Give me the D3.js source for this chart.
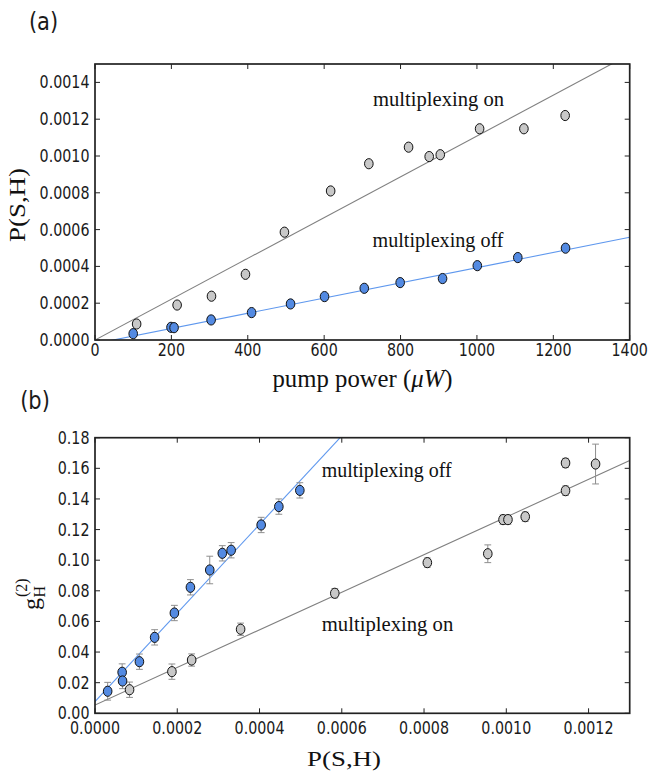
<!DOCTYPE html>
<html>
<head>
<meta charset="utf-8">
<script src="https://cdn.jsdelivr.net/npm/d3@7"></script>
<style>
html,body{margin:0;padding:0;background:#fff;}
svg{display:block;}
</style>
</head>
<body>
<svg id="chart" width="649" height="774"></svg>
<script>
// ---------- DATA ----------
// Panel (a): pump power (µW) vs P(S,H)
const aOnPower  = [109, 215, 305, 394, 496, 617, 717, 821, 875, 904, 1007, 1123, 1231];
const aOnP      = [0.000087, 0.00019, 0.000238, 0.000357, 0.000586, 0.00081, 0.000958, 0.001048, 0.000997, 0.001007, 0.001148, 0.001148, 0.00122];
const aOffPower = [100, 199, 207, 304, 410, 512, 601, 705, 799, 910, 1001, 1107, 1232];
const aOffP     = [0.0000343, 0.000069, 0.000067, 0.000109, 0.000149, 0.000196, 0.000236, 0.000281, 0.000312, 0.000334, 0.000404, 0.000448, 0.000499];
const aFitSlopes     = [1.109e-6, 4.13e-7];   // [on, off]
const aFitIntercepts = [0, -1.98e-5];
const aXTicks = [0, 200, 400, 600, 800, 1000, 1200, 1400];
const aYTicks = [0, 0.0002, 0.0004, 0.0006, 0.0008, 0.0010, 0.0012, 0.0014];

// Panel (b): P(S,H) vs g_H^(2)
const bOffP   = [3.08e-5, 6.6e-5, 6.7e-5, 1.08e-4, 1.45e-4, 1.93e-4, 2.32e-4, 2.79e-4, 3.095e-4, 3.31e-4, 4.04e-4, 4.47e-4, 4.98e-4];
const bOffG   = [0.0144, 0.0268, 0.0211, 0.0337, 0.0496, 0.0655, 0.0823, 0.0936, 0.1045, 0.1065, 0.123, 0.135, 0.1456];
const bOffErr = [0.0058, 0.0055, 0.005, 0.005, 0.005, 0.005, 0.005, 0.009, 0.005, 0.005, 0.005, 0.005, 0.005];
const bOnP    = [8.4e-5, 1.87e-4, 2.35e-4, 3.54e-4, 5.83e-4, 8.08e-4, 9.55e-4, 9.92e-4, 1.004e-3, 1.046e-3, 1.144e-3, 1.144e-3, 1.217e-3];
const bOnG    = [0.0154, 0.0272, 0.0348, 0.0549, 0.0784, 0.0984, 0.1042, 0.1265, 0.1265, 0.1284, 0.1635, 0.1454, 0.1628];
const bOnErr  = [0.005, 0.005, 0.004, 0.004, 0.003, 0.003, 0.0058, 0.003, 0.003, 0.003, 0.003, 0.003, 0.013];
const bFitSlopes     = [122.8, 289.3];  // [on, off]
const bFitIntercepts = [0.0054, 0.0076];
const bXTicks = [0, 0.0002, 0.0004, 0.0006, 0.0008, 0.0010, 0.0012];
const bYTicks = [0, 0.02, 0.04, 0.06, 0.08, 0.10, 0.12, 0.14, 0.16, 0.18];

// ---------- STYLE ----------
const GRAY_FILL = "#c8c8c8", BLUE_FILL = "#538ae2";
const GRAY_LINE = "#808080", BLUE_LINE = "#5f98ee";
const ERR_COL = "#8e8e8e";
const SANS = "'DejaVu Sans', sans-serif";
const SERIF = "'Liberation Serif', 'DejaVu Serif', serif";
const SQ = 0.84; // horizontal squeeze of sans text

const svg = d3.select("#chart");

function sansText(g, x, y, str, anchor, size) {
  return g.append("text")
    .attr("transform", `translate(${x},${y}) scale(${SQ},1)`)
    .attr("text-anchor", anchor)
    .style("font-family", SANS).style("font-size", size + "px")
    .attr("fill", "#1a1a1a")
    .text(str);
}

function panel(cfg) {
  const {L, R, T, B, xDom, yDom, xTicks, yTicks, xFmt, yFmt, xLabOff, id} = cfg;
  const x = d3.scaleLinear().domain(xDom).range([L, R]);
  const y = d3.scaleLinear().domain(yDom).range([B, T]);
  const g = svg.append("g");
  svg.append("clipPath").attr("id", id).append("rect")
    .attr("x", L).attr("y", T).attr("width", R - L).attr("height", B - T);

  // ticks (inward, all four sides)
  const tl = 5;
  xTicks.forEach(v => {
    const px = x(v);
    g.append("line").attr("x1", px).attr("x2", px).attr("y1", B).attr("y2", B - tl).attr("stroke", "#222").attr("stroke-width", 1);
    g.append("line").attr("x1", px).attr("x2", px).attr("y1", T).attr("y2", T + tl).attr("stroke", "#222").attr("stroke-width", 1);
    sansText(g, px, B + xLabOff, xFmt(v), "middle", 17);
  });
  yTicks.forEach(v => {
    const py = y(v);
    g.append("line").attr("x1", L).attr("x2", L + tl).attr("y1", py).attr("y2", py).attr("stroke", "#222").attr("stroke-width", 1);
    g.append("line").attr("x1", R).attr("x2", R - tl).attr("y1", py).attr("y2", py).attr("stroke", "#222").attr("stroke-width", 1);
    sansText(g, L - 5.5, py + 6.0, yFmt(v), "end", 17);
  });
  return {x, y, g};
}

function frame(p, L, R, T, B) {
  p.g.append("rect").attr("x", L).attr("y", T).attr("width", R - L).attr("height", B - T)
    .attr("fill", "none").attr("stroke", "#222").attr("stroke-width", 1.7);
}

function fitLine(p, slope, icpt, dom, color, clipId) {
  p.g.append("line")
    .attr("x1", p.x(dom[0])).attr("y1", p.y(icpt + slope * dom[0]))
    .attr("x2", p.x(dom[1])).attr("y2", p.y(icpt + slope * dom[1]))
    .attr("stroke", color).attr("stroke-width", 1.1)
    .attr("clip-path", `url(#${clipId})`);
}

function markers(p, xs, ys, fill) {
  p.g.selectAll(null).data(xs.map((v, i) => [v, ys[i]])).enter().append("ellipse")
    .attr("cx", d => p.x(d[0])).attr("cy", d => p.y(d[1]))
    .attr("rx", 4.3).attr("ry", 5.1)
    .attr("fill", fill).attr("stroke", "#111").attr("stroke-width", 1);
}

function errbars(p, xs, ys, es) {
  xs.forEach((v, i) => {
    const px = p.x(v), y1 = p.y(ys[i] - es[i]), y2 = p.y(ys[i] + es[i]);
    p.g.append("line").attr("x1", px).attr("x2", px).attr("y1", y1).attr("y2", y2).attr("stroke", ERR_COL).attr("stroke-width", 1);
    [y1, y2].forEach(yy => p.g.append("line").attr("x1", px - 3.4).attr("x2", px + 3.4).attr("y1", yy).attr("y2", yy).attr("stroke", ERR_COL).attr("stroke-width", 1));
  });
}

function serifText(x, y, str, size, len, rot) {
  const t = svg.append("text")
    .attr("transform", rot ? `translate(${x},${y}) rotate(-90)` : `translate(${x},${y})`)
    .attr("text-anchor", "middle")
    .style("font-family", SERIF).style("font-size", size + "px")
    .attr("fill", "#111");
  if (len) t.attr("textLength", len).attr("lengthAdjust", "spacingAndGlyphs");
  t.text(str);
  return t;
}

// ---------- PANEL (a) ----------
const A = {L: 95, R: 629.7, T: 64, B: 340};
const pa = panel({...A, xDom: [0, 1400], yDom: [0, 0.0015], xTicks: aXTicks, yTicks: aYTicks,
  xFmt: d3.format("d"), yFmt: d3.format(".4f"), xLabOff: 15.8, id: "clipA"});
fitLine(pa, aFitSlopes[0], aFitIntercepts[0], [0, 1400], GRAY_LINE, "clipA");
fitLine(pa, aFitSlopes[1], aFitIntercepts[1], [0, 1400], BLUE_LINE, "clipA");
markers(pa, aOnPower, aOnP, GRAY_FILL);
markers(pa, aOffPower, aOffP, BLUE_FILL);
frame(pa, A.L, A.R, A.T, A.B);

serifText(438.5, 106, "multiplexing on", 21.5, 131);
serifText(438, 247, "multiplexing off", 21.5, 131);

// x label (a)
{
  const t = svg.append("text").attr("x", 362.5).attr("y", 387).attr("text-anchor", "middle")
    .attr("textLength", 180).attr("lengthAdjust", "spacingAndGlyphs")
    .style("font-family", SERIF).style("font-size", "25px").attr("fill", "#111");
  t.append("tspan").text("pump power (");
  t.append("tspan").style("font-style", "italic").text("\u03BCW");
  t.append("tspan").text(")");
}
serifText(25, 205, "P(S,H)", 24, 74, true);
sansText(svg, 43.5, 30, "(a)", "middle", 25);

// ---------- PANEL (b) ----------
const Bp = {L: 95, R: 629.7, T: 437.7, B: 713.3};
const pb = panel({...Bp, xDom: [0, 0.0013], yDom: [0, 0.18], xTicks: bXTicks, yTicks: bYTicks,
  xFmt: d3.format(".4f"), yFmt: d3.format(".2f"), xLabOff: 20.3, id: "clipB"});
fitLine(pb, bFitSlopes[1], bFitIntercepts[1], [0, 0.0013], BLUE_LINE, "clipB");
fitLine(pb, bFitSlopes[0], bFitIntercepts[0], [0, 0.0013], GRAY_LINE, "clipB");
errbars(pb, bOffP, bOffG, bOffErr);
errbars(pb, bOnP, bOnG, bOnErr);
markers(pb, bOffP, bOffG, BLUE_FILL);
markers(pb, bOnP, bOnG, GRAY_FILL);
frame(pb, Bp.L, Bp.R, Bp.T, Bp.B);

serifText(386.7, 477, "multiplexing off", 21.5, 130);
serifText(387.5, 631, "multiplexing on", 21.5, 131.5);

serifText(344, 766, "P(S,H)", 22, 74);
// y label g_H^(2)
{
  const g = svg.append("g").attr("transform", "translate(38.5,610) rotate(-90)")
    .style("font-family", SERIF).attr("fill", "#111");
  g.append("text").attr("x", 0).attr("y", 0).style("font-size", "24px").text("g");
  g.append("text").attr("x", 12.5).attr("y", 6.5).style("font-size", "16px").text("H");
  g.append("text").attr("x", 13).attr("y", -11.5).style("font-size", "16px").text("(2)");
}
sansText(svg, 35, 409, "(b)", "middle", 25);
</script>
</body>
</html>
